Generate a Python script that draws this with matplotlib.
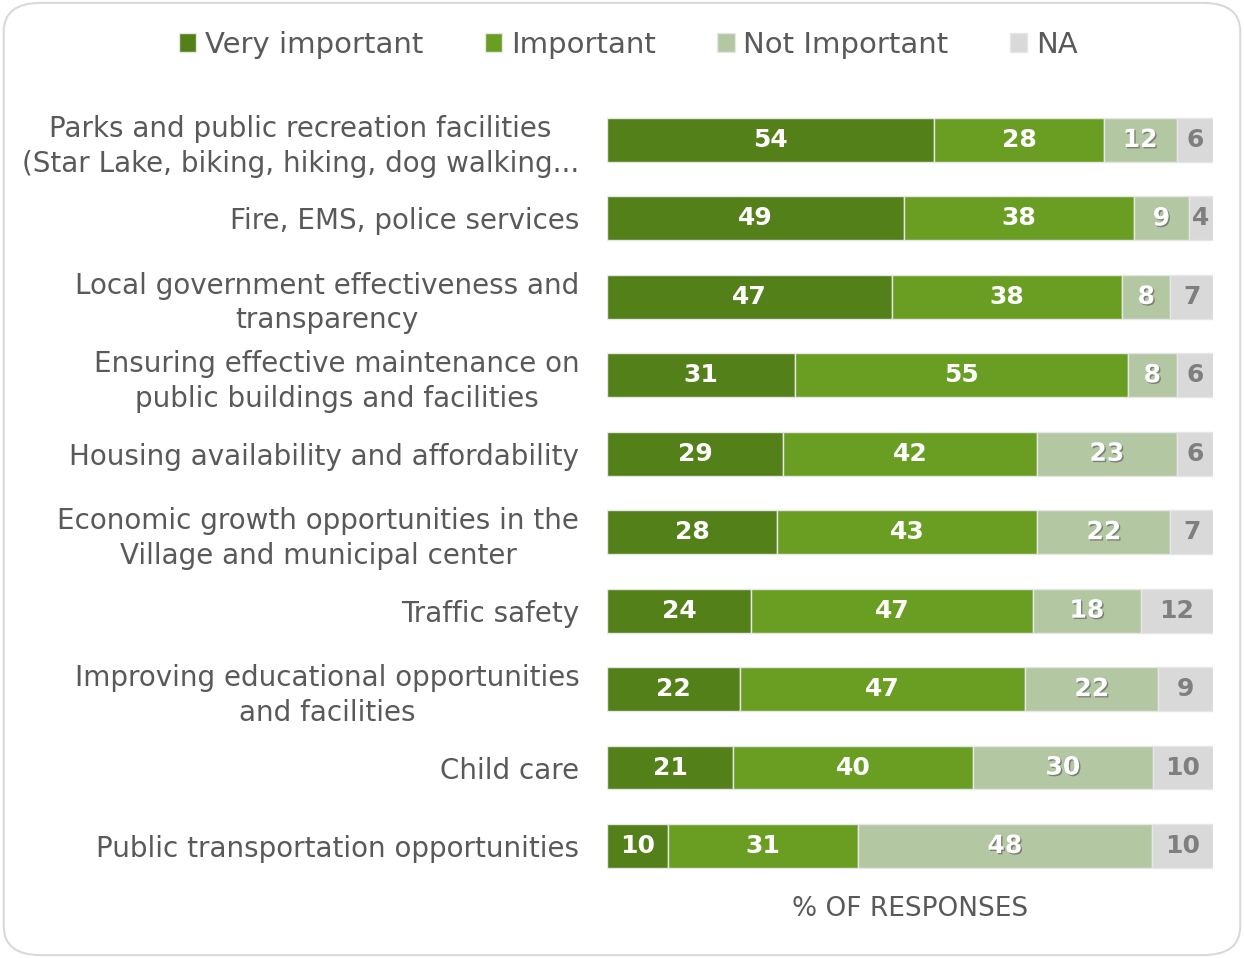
import matplotlib.pyplot as plt
import matplotlib.patheffects as pe
from matplotlib.patches import FancyBboxPatch
import numpy as np

plt.rcParams['font.family'] = ['DejaVu Sans']

categories = [
    "Parks and public recreation facilities\n(Star Lake, biking, hiking, dog walking...",
    "Fire, EMS, police services",
    "Local government effectiveness and\ntransparency",
    "Ensuring effective maintenance on\npublic buildings and facilities",
    "Housing availability and affordability",
    "Economic growth opportunities in the\nVillage and municipal center",
    "Traffic safety",
    "Improving educational opportunities\nand facilities",
    "Child care",
    "Public transportation opportunities",
]
very_important = [54, 49, 47, 31, 29, 28, 24, 22, 21, 10]
important = [28, 38, 38, 55, 42, 43, 47, 47, 40, 31]
not_important = [12, 9, 8, 8, 23, 22, 18, 22, 30, 48]
na = [6, 4, 7, 6, 6, 7, 12, 9, 10, 10]

series = ["Very important", "Important", "Not Important", "NA"]
colors = ["#548019", "#6a9e22", "#b3c7a3", "#d9d9d9"]
label_colors = ["white", "white", "white", "#7f7f7f"]

fig = plt.figure(figsize=(12.44, 9.58), dpi=100)
ax = fig.add_axes([0.488, 0.076, 0.487, 0.8188])

# rounded frame round the whole chart
frame = FancyBboxPatch((0.003, 0.003), 0.994, 0.994, boxstyle="round,pad=0,rounding_size=0.03",
                       transform=fig.transFigure, facecolor="white", edgecolor="#d9d9d9",
                       linewidth=1.5, zorder=-10)
fig.patches.append(frame)
ax.set_facecolor("none")

data = np.array([very_important, important, not_important, na], dtype=float)
totals = data.sum(axis=0)
y = np.arange(len(categories))
left = np.zeros(len(categories))
for k in range(4):
    widths = data[k] / totals * 100
    ax.barh(y, widths, left=left, height=0.56, color=colors[k], edgecolor="#e6e6e6",
            linewidth=1, label=series[k])
    for i in range(len(categories)):
        effects = None
        if k == 2:
            effects = [pe.SimplePatchShadow(offset=(1, -1), shadow_rgbFace="#555555", alpha=0.6), pe.Normal()]
        ax.text(left[i] + widths[i] / 2, y[i], str(int(data[k][i])), ha="center", va="center",
                fontsize=18, fontweight="bold", color=label_colors[k], path_effects=effects)
    left += widths

ax.set_xlim(0, 100)
ax.set_ylim(len(categories) - 0.5, -0.5)
ax.set_yticks(y)
ax.set_yticklabels(categories, fontsize=20, color="#595959", linespacing=1.3)
for t in ax.get_yticklabels():
    t.set_multialignment("center")
ax.tick_params(axis="y", length=0, pad=20)
ax.set_xticks([])
for s in ax.spines.values():
    s.set_visible(False)
ax.set_xlabel("% OF RESPONSES", fontsize=19, color="#595959", labelpad=8)

fig.legend(loc="upper center", bbox_to_anchor=(0.505, 0.995), ncol=4, frameon=False, fontsize=21,
           handlelength=0.6, handleheight=0.6, handletextpad=0.3, columnspacing=2.1,
           labelcolor="#595959")

fig.savefig("out.png", dpi=100)
